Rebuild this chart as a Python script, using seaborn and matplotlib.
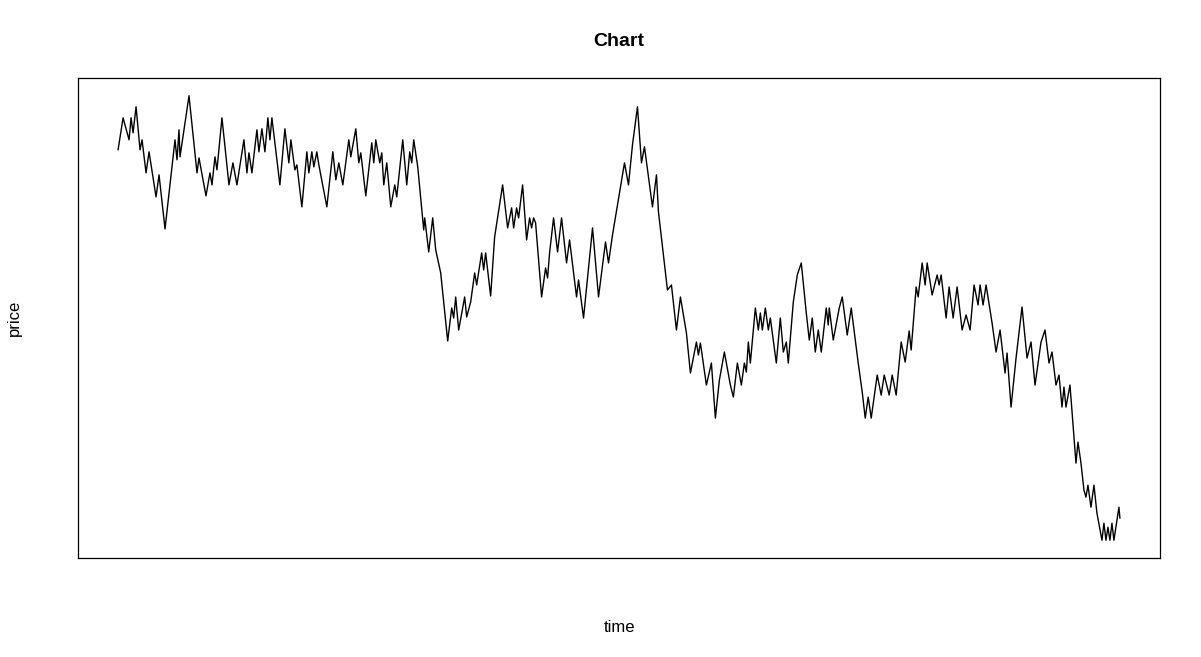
import pandas as pd
import matplotlib
matplotlib.use("Agg")
import matplotlib.pyplot as plt
import seaborn as sns

# turning points of the price path
time = [0, 5, 11, 13, 15, 18, 22, 24, 28, 31, 38, 41, 47, 54, 57, 59, 61, 62, 71,
        79, 81, 88, 92, 94, 97, 99, 104, 111, 115, 119, 126, 129, 131, 134, 139,
        141, 144, 147, 150, 152, 154, 162, 167, 171, 173, 177, 179, 184, 189, 191,
        194, 196, 199, 201, 209, 215, 218, 221, 225, 231, 233, 238, 241, 243, 248,
        254, 256, 258, 262, 264, 266, 269, 273, 277, 279, 285, 289, 292, 294, 296,
        300, 306, 307, 311, 315, 318, 323, 330, 334, 336, 338, 341, 347, 349, 353,
        357, 359, 364, 366, 368, 373, 377, 385, 390, 394, 396, 399, 401, 405, 409,
        412, 414, 416, 418, 424, 428, 430, 432, 436, 440, 444, 449, 452, 459, 461,
        466, 475, 481, 488, 491, 495, 507, 511, 515, 520, 524, 527, 535, 539, 541,
        550, 554, 559, 563, 569, 573, 579, 581, 583, 589, 594, 598, 602, 607, 613,
        616, 620, 624, 627, 629, 631, 633, 638, 641, 643, 645, 648, 651, 653, 659,
        663, 666, 669, 671, 676, 680, 684, 689, 692, 695, 698, 701, 704, 709, 711,
        712, 716, 722, 725, 730, 734, 741, 745, 748, 751, 754, 760, 764, 767, 772,
        775, 779, 784, 788, 792, 794, 799, 801, 805, 808, 810, 815, 820, 822, 824,
        829, 832, 836, 840, 845, 849, 853, 857, 861, 863, 866, 869, 875, 879, 883,
        888, 890, 894, 899, 905, 910, 914, 918, 924, 928, 932, 935, 939, 942, 945,
        947, 949, 953, 957, 959, 961, 964, 967, 969, 971, 974, 977, 980, 985, 987,
        989, 991, 993, 995, 997, 1002, 1003]
price = [91.0, 94.2, 92.0, 94.2, 92.7, 95.3, 91.0, 92.0, 88.7, 90.8, 86.3, 88.5, 83.1,
         89.3, 92.0, 90.0, 93.0, 90.3, 96.4,
         88.7, 90.2, 86.4, 88.7, 87.5, 90.3, 89.0, 94.2, 87.5, 89.7, 87.5, 92.0, 88.7,
         90.7, 88.7, 93.0,
         90.8, 93.1, 90.8, 94.2, 92.0, 94.2, 87.5, 93.1, 89.7, 92.0, 89.0, 89.5, 85.3,
         90.8, 88.7,
         90.8, 89.3, 90.8, 89.5, 85.3, 90.8, 88.0, 89.7, 87.5, 92.0, 90.3, 93.1, 89.7,
         90.7, 86.4,
         91.7, 89.7, 92.0, 89.7, 90.7, 87.5, 89.7, 85.3, 87.5, 86.3, 92.0, 87.5, 90.8,
         89.7, 92.0,
         89.3, 83.0, 84.2, 80.8, 84.2, 81.0, 78.7, 71.9, 75.2, 74.2, 76.3, 73.0, 76.3,
         74.3, 75.8,
         78.7, 77.5, 80.7, 79.0, 80.7, 76.4, 82.3, 87.5, 83.2, 85.2, 83.2, 85.2, 84.2,
         87.5, 82.0,
         84.2, 83.2, 84.2, 83.7, 76.3, 79.2, 78.2, 80.7, 84.2, 80.8, 84.2, 79.7, 82.0,
         76.3, 78.0,
         74.2, 83.2, 76.3, 81.8, 79.7, 82.5, 89.7, 87.5, 91.5, 95.3, 89.7, 91.3, 85.3,
         88.5, 84.8,
         77.0, 77.5, 73.0, 76.3, 72.7, 68.7, 71.8, 70.5, 71.7, 67.5, 69.7, 64.2, 68.0,
         70.8, 67.5,
         66.3, 69.7, 67.5, 69.7, 68.8, 71.8, 69.7, 75.2, 73.0, 74.7, 73.0, 75.2, 73.0,
         74.2, 69.7,
         74.2, 70.8, 71.8, 69.7, 75.8, 78.5, 79.7, 74.7, 72.0, 74.2, 70.8, 73.0, 70.8,
         75.2, 73.5,
         75.2, 72.0, 75.2, 76.3, 72.5, 75.2, 69.7, 66.8, 64.2, 66.3, 64.2, 68.5, 66.5,
         68.5, 66.5,
         68.5, 66.5, 71.8, 69.8, 72.9, 71.0, 77.3, 76.3, 79.7, 77.5, 79.7, 76.5, 78.5,
         77.5, 78.5,
         74.2, 77.3, 74.2, 77.3, 73.0, 74.5, 73.0, 77.5, 75.5, 77.5, 75.5, 77.5, 73.7,
         70.8, 73.0,
         68.7, 70.7, 65.3, 70.2, 75.3, 70.2, 71.8, 67.5, 71.8, 73.0, 69.7, 70.8, 67.5,
         68.5, 65.3,
         67.3, 65.3, 67.5, 62.3, 59.7, 61.8, 59.7, 57.0, 56.3, 57.5, 55.3, 57.5, 54.7,
         52.0, 53.7,
         52.0, 53.3, 52.0, 53.7, 52.0, 55.3, 54.2]

df = pd.DataFrame({"time": time, "price": price})

sns.set_style("white")
plt.rcParams["font.family"] = ["Liberation Sans", "DejaVu Sans"]
plt.rcParams["text.color"] = "black"

fig = plt.figure(figsize=(12.01, 6.57), dpi=100)
ax = fig.add_axes([78 / 1201, 1 - 558 / 657, (1160 - 78) / 1201, (558 - 78) / 657])

sns.lineplot(data=df, x="time", y="price", color="black", linewidth=1.0,
             estimator=None, ax=ax)
ax.margins(x=0.04, y=0.04)
ax.set_xticks([])
ax.set_yticks([])
ax.set_xlabel("")
ax.set_ylabel("")
for s in ax.spines.values():
    s.set_visible(True)
    s.set_color("black")
    s.set_linewidth(0.9)

fig.text(619 / 1201, 1 - 41 / 657, "Chart", ha="center", va="center",
         fontsize=14, fontweight="bold", color="black")
fig.text(619 / 1201, 1 - 627 / 657, "time", ha="center", va="center",
         fontsize=12, color="black")
fig.text(14 / 1201, 1 - 318 / 657, "price", ha="center", va="center",
         rotation=90, fontsize=12, color="black")

fig.savefig("out.png", dpi=100)
